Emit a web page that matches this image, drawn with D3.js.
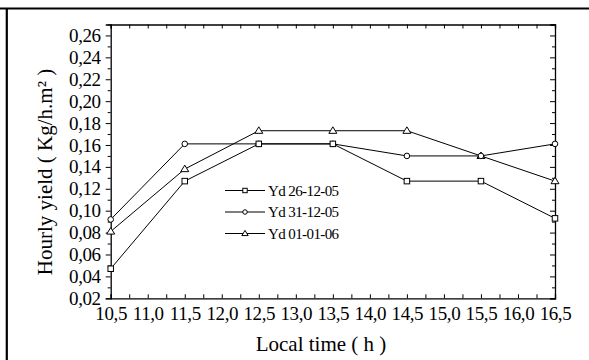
<!DOCTYPE html>
<html><head><meta charset="utf-8">
<script src="https://cdn.jsdelivr.net/npm/d3@7"></script>
<style>
html,body{margin:0;padding:0;background:#fff;}
svg{display:block;}
</style></head>
<body>
<svg id="chart" width="589" height="360"></svg>
<script>
// ---- data ----
const times = [10.5, 11.5, 12.5, 13.5, 14.5, 15.5, 16.5];
const yd261205 = [0.047, 0.127, 0.161, 0.161, 0.127, 0.127, 0.093];
const yd311205 = [0.092, 0.161, 0.161, 0.161, 0.150, 0.150, 0.161];
const yd010106 = [0.081, 0.138, 0.173, 0.173, 0.173, 0.150, 0.127];
const seriesNames = ["Yd 26-12-05", "Yd 31-12-05", "Yd 01-01-06"];
const xTickValues = [10.5, 10.75, 11, 11.25, 11.5, 11.75, 12, 12.25, 12.5, 12.75, 13, 13.25, 13.5, 13.75, 14, 14.25, 14.5, 14.75, 15, 15.25, 15.5, 15.75, 16, 16.25, 16.5];
const yTickValues = [0.02,0.03,0.04,0.05,0.06,0.07,0.08,0.09,0.10,0.11,0.12,0.13,0.14,0.15,0.16,0.17,0.18,0.19,0.20,0.21,0.22,0.23,0.24,0.25,0.26,0.27];
const xTitle = "Local time ( h )";
const yTitle = "Hourly yield ( Kg/h.m² )";

const FONT = "'Liberation Serif', 'Times New Roman', Times, 'DejaVu Serif', serif";
const svg = d3.select("#chart").attr("font-family", FONT);
const L = 110.7, R = 555, T = 24.5, B = 298.3;
const x = d3.scaleLinear().domain([10.5, 16.5]).range([L, R]);
const y = d3.scaleLinear().domain([0.02, 0.27]).range([B, T]);

// outer frame (table cell border)
svg.append("line").attr("x1", 0).attr("x2", 589).attr("y1", 8.5).attr("y2", 8.5)
  .attr("stroke", "#000").attr("stroke-width", 2.2);
svg.append("line").attr("x1", 6.8).attr("x2", 6.8).attr("y1", 8.5).attr("y2", 360)
  .attr("stroke", "#000").attr("stroke-width", 2.2);

const isMajorX = v => Math.abs(v * 2 - Math.round(v * 2)) < 1e-6;
const isMajorY = v => Math.round(v * 100) % 2 === 0;
const fmtX = v => d3.format(".1f")(v).replace(".", ",");
const fmtY = v => d3.format(".2f")(v).replace(".", ",");

function styleAxis(g) {
  g.attr("font-family", FONT);
  g.select(".domain").attr("stroke", "#000").attr("stroke-width", 1.3);
  g.selectAll(".tick line").attr("stroke", "#000").attr("stroke-width", 1);
  g.selectAll(".tick text").attr("font-family", FONT).attr("fill", "#000");
}

// bottom axis
const gx = svg.append("g").attr("transform", `translate(0,${B})`)
  .call(d3.axisBottom(x).tickValues(xTickValues).tickSizeOuter(0).tickSize(-4)
    .tickPadding(8).tickFormat(v => isMajorX(v) ? fmtX(v) : ""));
styleAxis(gx);
gx.selectAll(".tick text").attr("font-size", 19).attr("dy", "0.72em").attr("letter-spacing", "-0.4");

// top axis
const gt = svg.append("g").attr("transform", `translate(0,${T})`)
  .call(d3.axisTop(x).tickValues(xTickValues).tickSizeOuter(0).tickSize(-4).tickFormat(""));
styleAxis(gt);

// left axis
const gy = svg.append("g").attr("transform", `translate(${L},0)`)
  .call(d3.axisLeft(y).tickValues(yTickValues).tickSizeOuter(0).tickSize(5)
    .tickPadding(6).tickFormat(v => isMajorY(v) && v < 0.265 ? fmtY(v) : ""));
styleAxis(gy);
gy.selectAll(".tick line").attr("x2", d => isMajorY(d) ? -5 : -3);
gy.selectAll(".tick text").attr("font-size", 19).attr("x", -10).attr("letter-spacing", "-0.4");

// right axis
const gr = svg.append("g").attr("transform", `translate(${R},0)`)
  .call(d3.axisRight(y).tickValues(yTickValues).tickSizeOuter(0).tickSize(-5).tickFormat(""));
styleAxis(gr);
gr.selectAll(".tick line").attr("x2", d => isMajorY(d) ? -5 : -3);

// axis titles
svg.append("text").attr("x", 321).attr("y", 351).attr("text-anchor", "middle")
  .attr("font-family", FONT).attr("font-size", 21).attr("fill", "#000").text(xTitle);
svg.append("text").attr("transform", "translate(52,172) rotate(-90)")
  .attr("text-anchor", "middle").attr("font-family", FONT).attr("font-size", 21)
  .attr("fill", "#000").text(yTitle);

// series
const series = [
  { name: seriesNames[2], values: yd010106, shape: "tri" },
  { name: seriesNames[1], values: yd311205, shape: "circ" },
  { name: seriesNames[0], values: yd261205, shape: "sq" }
];
const line = d3.line().x((d, i) => x(times[i])).y(d => y(d));

function drawMarker(g, shape, cx, cy, scale) {
  const s = scale || 1;
  if (shape === "sq") {
    const a = 5.5 * s;
    g.append("rect").attr("x", cx - a / 2).attr("y", cy - a / 2).attr("width", a).attr("height", a)
      .attr("fill", "#fff").attr("stroke", "#000").attr("stroke-width", 1);
  } else if (shape === "circ") {
    g.append("circle").attr("cx", cx).attr("cy", cy).attr("r", 2.8 * s)
      .attr("fill", "#fff").attr("stroke", "#000").attr("stroke-width", 1);
  } else {
    const w = 4 * s, h = 6.5 * s;
    g.append("path").attr("d", `M${cx},${cy - h * 0.6}L${cx + w},${cy + h * 0.4}L${cx - w},${cy + h * 0.4}Z`)
      .attr("fill", "#fff").attr("stroke", "#000").attr("stroke-width", 1);
  }
}

series.forEach(s => {
  svg.append("path").datum(s.values).attr("d", line)
    .attr("fill", "none").attr("stroke", "#000").attr("stroke-width", 1);
});
series.forEach(s => {
  const g = svg.append("g");
  s.values.forEach((v, i) => drawMarker(g, s.shape, x(times[i]), y(v)));
});

// legend
const legendItems = [
  { name: seriesNames[0], shape: "sq" },
  { name: seriesNames[1], shape: "circ" },
  { name: seriesNames[2], shape: "tri" }
];
legendItems.forEach((it, i) => {
  const cy = 190.5 + i * 21.5;
  const g = svg.append("g");
  g.append("line").attr("x1", 225).attr("x2", 265).attr("y1", cy).attr("y2", cy)
    .attr("stroke", "#000").attr("stroke-width", 1);
  drawMarker(g, it.shape, 245, cy, 0.8);
  g.append("text").attr("x", 268).attr("y", cy).attr("dy", "0.35em")
    .attr("font-family", FONT).attr("font-size", 15).attr("fill", "#000")
    .attr("letter-spacing", "-0.6").text(it.name);
});
</script>
</body></html>
